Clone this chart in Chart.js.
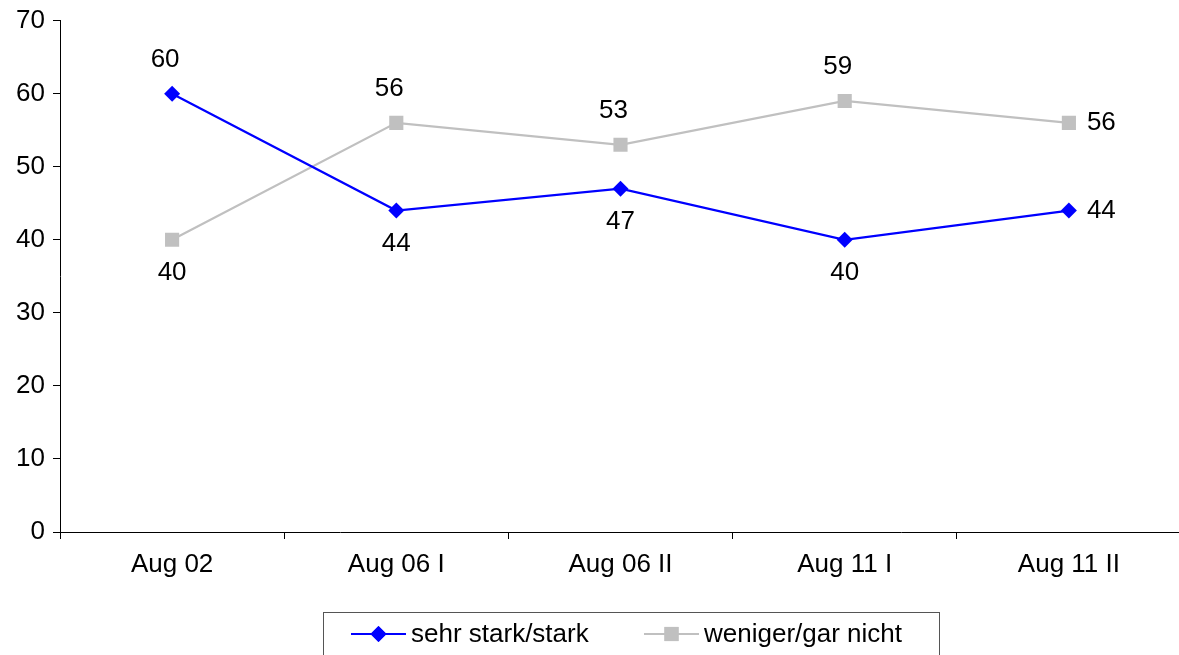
<!DOCTYPE html>
<html>
<head>
<meta charset="utf-8">
<script src="https://cdn.jsdelivr.net/npm/chart.js@4/dist/chart.umd.min.js"></script>
<style>
  html, body { margin: 0; padding: 0; background: #fff; overflow: hidden; }
  #wrap { width: 1179px; height: 655px; overflow: hidden; position: relative; }
  #chart { position: absolute; left: 0; top: -3px; }
</style>
</head>
<body>
<div id="wrap"><canvas id="chart" width="1191" height="658"></canvas></div>
<script>
const labels = ["Aug 02", "Aug 06 I", "Aug 06 II", "Aug 11 I", "Aug 11 II"];
const starkData = [60, 44, 47, 40, 44];
const wenigerData = [40, 56, 53, 59, 56];
const yTicks = [0, 10, 20, 30, 40, 50, 60, 70];

// where each value label sits: a = above, b = below, r = right
const starkPos = ["a", "b", "b", "b", "r"];
const wenigerPos = ["b", "a", "a", "a", "r"];

const FONT = "'Liberation Sans', Arial, sans-serif";

const valueLabels = {
  id: "valueLabels",
  afterDatasetsDraw(chart) {
    const ctx = chart.ctx;
    const posSets = [starkPos, wenigerPos];
    ctx.save();
    ctx.font = "26px " + FONT;
    ctx.fillStyle = "#000";
    ctx.textBaseline = "middle";
    chart.data.datasets.forEach((ds, i) => {
      chart.getDatasetMeta(i).data.forEach((pt, j) => {
        const p = posSets[i][j];
        let x = pt.x, y = pt.y;
        ctx.textAlign = "center";
        if (p === "a") { y -= 34; x -= 7; }
        else if (p === "b") { y += 33; }
        else { x += 18; ctx.textAlign = "left"; }
        ctx.fillText(String(ds.data[j]), x, y);
      });
    });
    ctx.restore();
  }
};

const boxLegend = {
  id: "boxLegend",
  afterDraw(chart) {
    const ctx = chart.ctx;
    const dy = 3; // canvas is shifted up by 3px
    ctx.save();
    ctx.strokeStyle = "#555";
    ctx.lineWidth = 1;
    ctx.strokeRect(323.5, 612.5 + dy, 616, 50);
    const items = [
      { x: 351, text: "sehr stark/stark", color: "#0000ff", style: "rectRot", r: 8 },
      { x: 644, text: "weniger/gar nicht", color: "#c0c0c0", style: "rect", r: 10 }
    ];
    const y = 634 + dy;
    items.forEach(it => {
      ctx.strokeStyle = it.color;
      ctx.lineWidth = 2;
      ctx.beginPath();
      ctx.moveTo(it.x, y);
      ctx.lineTo(it.x + 55, y);
      ctx.stroke();
      ctx.fillStyle = it.color;
      Chart.helpers.drawPoint(ctx, { pointStyle: it.style, radius: it.r, borderWidth: 0 }, it.x + 27.5, y);
      ctx.fill();
      ctx.fillStyle = "#000";
      ctx.font = "26px " + FONT;
      ctx.textAlign = "left";
      ctx.textBaseline = "middle";
      ctx.fillText(it.text, it.x + 60, y + 1);
    });
    ctx.restore();
  }
};

new Chart(document.getElementById("chart"), {
  type: "line",
  data: {
    labels: labels,
    datasets: [
      {
        label: "sehr stark/stark",
        data: starkData,
        borderColor: "#0000ff",
        backgroundColor: "#0000ff",
        borderWidth: 2.2,
        pointStyle: "rectRot",
        pointRadius: 8,
        pointBorderWidth: 0,
        tension: 0,
      },
      {
        label: "weniger/gar nicht",
        data: wenigerData,
        borderColor: "#c0c0c0",
        backgroundColor: "#c0c0c0",
        borderWidth: 2.2,
        pointStyle: "rect",
        pointRadius: 10,
        pointBorderWidth: 0,
        tension: 0,
      },
    ],
  },
  options: {
    responsive: false,
    animation: false,
    layout: { padding: { top: 17, right: 0, left: 0, bottom: 0 } },
    plugins: {
      legend: { display: false },
      tooltip: { enabled: false },
    },
    scales: {
      x: {
        offset: true,
        grid: { offset: true, drawOnChartArea: false, drawTicks: true, tickLength: 7, color: "#000" },
        border: { color: "#000", width: 1 },
        ticks: { color: "#000", font: { family: FONT, size: 26 }, padding: 10, maxRotation: 0 },
        afterFit(scale) { scale.height = 123; },
      },
      y: {
        min: 0,
        max: 70,
        afterBuildTicks(scale) { scale.ticks = yTicks.map(v => ({ value: v })); },
        grid: { drawOnChartArea: false, drawTicks: true, tickLength: 7, color: "#000" },
        border: { color: "#000", width: 1 },
        ticks: { color: "#000", font: { family: FONT, size: 26 }, padding: 8 },
        afterFit(scale) { scale.width = 60; },
      },
    },
  },
  plugins: [valueLabels, boxLegend],
});
</script>
</body>
</html>
